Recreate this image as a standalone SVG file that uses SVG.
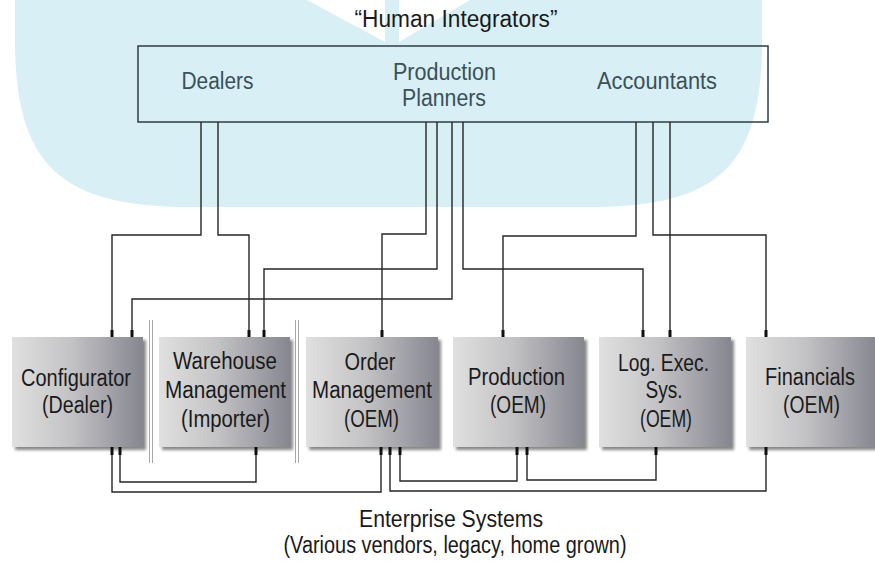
<svg xmlns="http://www.w3.org/2000/svg" width="875" height="568" viewBox="0 0 875 568">
<style>
  .t{font-family:"Liberation Sans",Arial,sans-serif;font-size:23px;text-anchor:middle;fill:#1a1a1a}
  .top{fill:#3b5058}
  .box{fill:url(#g);filter:url(#sh)}
  .ln{fill:none;stroke:#262626;stroke-width:1.4}
  .tm{fill:#111}
  .dv{stroke:#a8a8a8;stroke-width:1}
</style>
<defs>
  <linearGradient id="g" x1="0" y1="0" x2="1" y2="0">
    <stop offset="0" stop-color="#e0e0e0"/>
    <stop offset="0.45" stop-color="#c3c3c5"/>
    <stop offset="1" stop-color="#868690"/>
  </linearGradient>
  <filter id="sh" x="-10%" y="-10%" width="125%" height="125%">
    <feDropShadow dx="3" dy="3" stdDeviation="1.5" flood-color="#555" flood-opacity="0.7"/>
  </filter>
</defs>
<rect width="875" height="568" fill="#ffffff"/>
<g id="background">
  <path d="M15,0 L762,0 L762,40 C762,165 720,207 590,207 L190,207 C60,207 15,165 15,40 Z" fill="#d8eff5"/>
  <polygon points="307,0 385,0 385,42" fill="#ffffff"/>
  <polygon points="399,0 470,0 399,42" fill="#ffffff"/>
</g>
<text class="t" x="456" y="27" textLength="203" lengthAdjust="spacingAndGlyphs">“Human Integrators”</text>
<g id="human-integrators">
  <rect x="138" y="46" width="630" height="76" fill="none" stroke="#2e3e44" stroke-width="1.5"/>
  <text class="t top" x="217.5" y="89" textLength="72" lengthAdjust="spacingAndGlyphs">Dealers</text>
  <text class="t top" x="444.5" y="80" textLength="103" lengthAdjust="spacingAndGlyphs">Production</text>
  <text class="t top" x="444" y="106" textLength="84" lengthAdjust="spacingAndGlyphs">Planners</text>
  <text class="t top" x="657" y="89" textLength="120" lengthAdjust="spacingAndGlyphs">Accountants</text>
</g>
<g id="dividers">
  <line class="dv" x1="149.5" y1="320" x2="149.5" y2="463"/>
  <line class="dv" x1="152.5" y1="320" x2="152.5" y2="463"/>
  <line class="dv" x1="295.5" y1="320" x2="295.5" y2="463"/>
  <line class="dv" x1="298.5" y1="320" x2="298.5" y2="463"/>
</g>
<g id="configurator">
  <rect class="box" x="12" y="337" width="131" height="110"/>
  <text class="t" x="76" y="386" textLength="110" lengthAdjust="spacingAndGlyphs">Configurator</text>
  <text class="t" x="77.5" y="413" textLength="71" lengthAdjust="spacingAndGlyphs">(Dealer)</text>
</g>
<g id="warehouse">
  <rect class="box" x="159" y="337" width="131" height="110"/>
  <text class="t" x="225" y="369" textLength="104" lengthAdjust="spacingAndGlyphs">Warehouse</text>
  <text class="t" x="225.5" y="398" textLength="121" lengthAdjust="spacingAndGlyphs">Management</text>
  <text class="t" x="225.5" y="427" textLength="89" lengthAdjust="spacingAndGlyphs">(Importer)</text>
</g>
<g id="order">
  <rect class="box" x="306" y="337" width="132" height="110"/>
  <text class="t" x="370" y="370" textLength="51" lengthAdjust="spacingAndGlyphs">Order</text>
  <text class="t" x="372" y="398" textLength="120" lengthAdjust="spacingAndGlyphs">Management</text>
  <text class="t" x="371.5" y="427" textLength="55" lengthAdjust="spacingAndGlyphs">(OEM)</text>
</g>
<g id="production">
  <rect class="box" x="453" y="337" width="131" height="110"/>
  <text class="t" x="516.5" y="385" textLength="97" lengthAdjust="spacingAndGlyphs">Production</text>
  <text class="t" x="518" y="413" textLength="56" lengthAdjust="spacingAndGlyphs">(OEM)</text>
</g>
<g id="logexec">
  <rect class="box" x="599" y="337" width="132" height="110"/>
  <text class="t" x="663.5" y="371" textLength="91" lengthAdjust="spacingAndGlyphs">Log. Exec.</text>
  <text class="t" x="664" y="398" textLength="37" lengthAdjust="spacingAndGlyphs">Sys.</text>
  <text class="t" x="666" y="427" textLength="52" lengthAdjust="spacingAndGlyphs">(OEM)</text>
</g>
<g id="financials">
  <rect class="box" x="746" y="337" width="131" height="110"/>
  <text class="t" x="810" y="385" textLength="90" lengthAdjust="spacingAndGlyphs">Financials</text>
  <text class="t" x="811.5" y="413" textLength="57" lengthAdjust="spacingAndGlyphs">(OEM)</text>
</g>
<g id="connectors">
  <polyline class="ln" points="201,122 201,235 112,235 112,337"/>
  <polyline class="ln" points="218,122 218,235 249,235 249,337"/>
  <polyline class="ln" points="426,122 426,234 382,234 382,337"/>
  <polyline class="ln" points="437,122 437,269 264,269 264,337"/>
  <polyline class="ln" points="452,122 452,299 132,299 132,337"/>
  <polyline class="ln" points="463,122 463,269 643,269 643,337"/>
  <polyline class="ln" points="636,122 636,236 503,236 503,337"/>
  <polyline class="ln" points="653,122 653,235 766,235 766,337"/>
  <polyline class="ln" points="670,122 670,337"/>
  <polyline class="ln" points="120,447 120,482 256,482 256,447"/>
  <polyline class="ln" points="112,447 112,492 381,492 381,447"/>
  <polyline class="ln" points="400,447 400,481 517,481 517,447"/>
  <polyline class="ln" points="527,447 527,480 656,480 656,447"/>
  <polyline class="ln" points="390,447 390,491 766,491 766,447"/>
  <g class="tm">
    <rect x="110.5" y="330" width="3" height="7"/>
    <rect x="130.5" y="330" width="3" height="7"/>
    <rect x="247.5" y="330" width="3" height="7"/>
    <rect x="262.5" y="330" width="3" height="7"/>
    <rect x="380.5" y="330" width="3" height="7"/>
    <rect x="501.5" y="330" width="3" height="7"/>
    <rect x="641.5" y="330" width="3" height="7"/>
    <rect x="668.5" y="330" width="3" height="7"/>
    <rect x="764.5" y="330" width="3" height="7"/>
    <rect x="110.5" y="447" width="3" height="8"/>
    <rect x="118.5" y="447" width="3" height="8"/>
    <rect x="254.5" y="447" width="3" height="8"/>
    <rect x="379.5" y="447" width="3" height="8"/>
    <rect x="388.5" y="447" width="3" height="8"/>
    <rect x="398.5" y="447" width="3" height="8"/>
    <rect x="515.5" y="447" width="3" height="8"/>
    <rect x="525.5" y="447" width="3" height="8"/>
    <rect x="654.5" y="447" width="3" height="8"/>
    <rect x="764.5" y="447" width="3" height="8"/>
  </g>
</g>
<text class="t" x="451" y="527" textLength="184" lengthAdjust="spacingAndGlyphs">Enterprise Systems</text>
<text class="t" x="455" y="553" textLength="343" lengthAdjust="spacingAndGlyphs">(Various vendors, legacy, home grown)</text>
</svg>
